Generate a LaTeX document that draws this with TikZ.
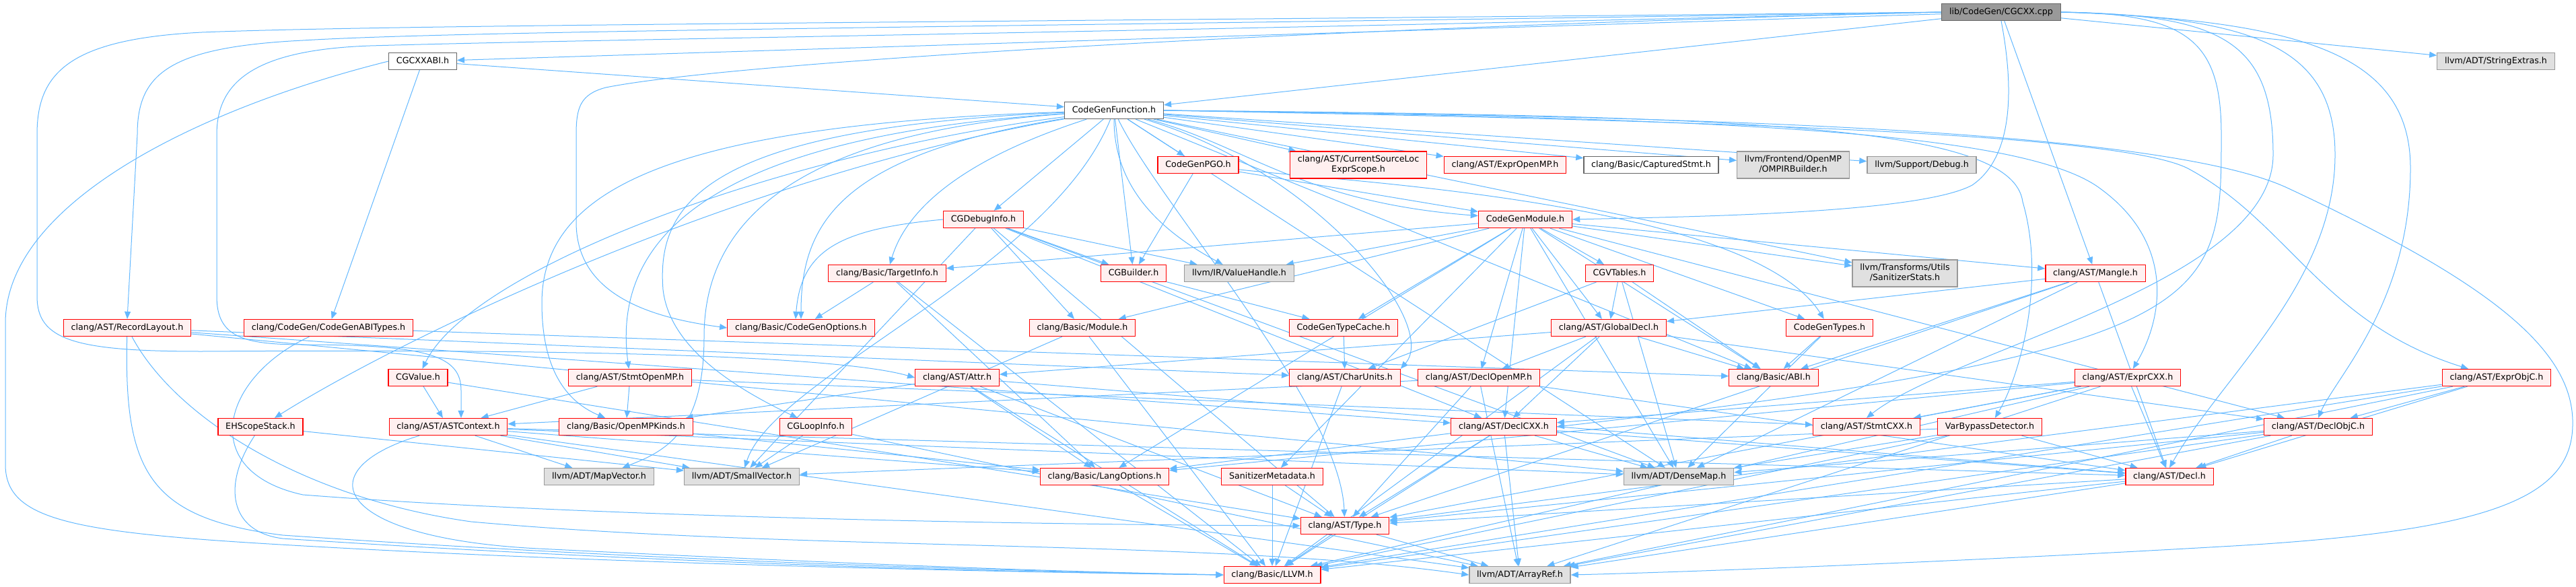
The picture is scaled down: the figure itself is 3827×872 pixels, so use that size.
\documentclass[tikz,border=0pt]{standalone}
\usepackage{fontspec}
\setmainfont{DejaVu Sans}
\usetikzlibrary{arrows.meta,backgrounds}
\definecolor{edgeblue}{HTML}{63B8FF}
\definecolor{redfill}{HTML}{FFF0F0}
\definecolor{grayfill}{HTML}{E0E0E0}
\definecolor{grayline}{HTML}{999999}
\definecolor{darkline}{HTML}{666666}
\begin{document}
\begin{tikzpicture}[x=1pt,y=1pt,font=\fontsize{12.7}{15}\selectfont]
			\tikzstyle{every node}+=[inner xsep=11.3pt,inner ysep=0pt,minimum height=25pt,line width=1.3pt,text height=9.5pt,text depth=2.7pt]
			\tikzstyle{rootbox}=[draw=darkline,fill=grayline]
			\tikzstyle{plainbox}=[draw=darkline,fill=white]
			\tikzstyle{redbox}=[draw=red,fill=redfill]
			\tikzstyle{extbox}=[draw=grayline,fill=grayfill]
			\tikzstyle{twoline}=[align=center,minimum height=40pt,text height=24.5pt,text depth=2.7pt]
			\tikzstyle{dep}=[draw=edgeblue,line width=1pt,-{Triangle[length=11pt,width=9pt]}]
			\useasboundingbox (0,0) rectangle (3827,-872);
			\node [rootbox] (cgcxx) at (2973,-18) {lib/CodeGen/CGCXX.cpp};
			\node [plainbox] (cxxabi) at (628,-91) {CGCXXABI.h};
			\node [extbox] (strext) at (3708,-91) {llvm/ADT/StringExtras.h};
			\node [plainbox] (cgfunc) at (1655,-164) {CodeGenFunction.h};
			\node [redbox] (cgpgo) at (1780,-245) {CodeGenPGO.h};
			\node [redbox,twoline] (srcloc) at (2018,-245) {clang/AST/CurrentSourceLoc\\ExprScope.h};
			\node [redbox] (expromp) at (2236,-245) {clang/AST/ExprOpenMP.h};
			\node [plainbox] (captured) at (2453,-245) {clang/Basic/CapturedStmt.h};
			\node [extbox,twoline] (ompirb) at (2664,-245) {llvm/Frontend/OpenMP\\/OMPIRBuilder.h};
			\node [extbox] (debug) at (2855,-245) {llvm/Support/Debug.h};
			\node [redbox] (cgdbg) at (1461,-326) {CGDebugInfo.h};
			\node [redbox] (cgmod) at (2266,-326) {CodeGenModule.h};
			\node [redbox] (tinfo) at (1318,-406) {clang/Basic/TargetInfo.h};
			\node [redbox] (cgbld) at (1684,-406) {CGBuilder.h};
			\node [extbox] (vhandle) at (1841,-406) {llvm/IR/ValueHandle.h};
			\node [redbox] (vtables) at (2406,-406) {CGVTables.h};
			\node [extbox,twoline] (sanstats) at (2830,-406) {llvm/Transforms/Utils\\/SanitizerStats.h};
			\node [redbox] (mangle) at (3113,-406) {clang/AST/Mangle.h};
			\node [redbox] (reclay) at (189,-487) {clang/AST/RecordLayout.h};
			\node [redbox] (abitypes) at (488,-487) {clang/CodeGen/CodeGenABITypes.h};
			\node [redbox] (cgopts) at (1190,-487) {clang/Basic/CodeGenOptions.h};
			\node [redbox] (bmodule) at (1608,-487) {clang/Basic/Module.h};
			\node [redbox] (tcache) at (1996,-487) {CodeGenTypeCache.h};
			\node [redbox] (gdecl) at (2390,-487) {clang/AST/GlobalDecl.h};
			\node [redbox] (cgtypes) at (2718,-487) {CodeGenTypes.h};
			\node [redbox] (cgvalue) at (621,-561) {CGValue.h};
			\node [redbox] (stmtomp) at (936,-561) {clang/AST/StmtOpenMP.h};
			\node [redbox] (attr) at (1422,-561) {clang/AST/Attr.h};
			\node [redbox] (charunits) at (1998,-561) {clang/AST/CharUnits.h};
			\node [redbox] (declomp) at (2197,-561) {clang/AST/DeclOpenMP.h};
			\node [redbox] (abi) at (2635,-561) {clang/Basic/ABI.h};
			\node [redbox] (exprcxx) at (3161,-561) {clang/AST/ExprCXX.h};
			\node [redbox] (exprobjc) at (3709,-561) {clang/AST/ExprObjC.h};
			\node [redbox] (ehscope) at (387,-634) {EHScopeStack.h};
			\node [redbox] (astctx) at (666,-634) {clang/AST/ASTContext.h};
			\node [redbox] (ompkinds) at (930,-634) {clang/Basic/OpenMPKinds.h};
			\node [redbox] (loopinfo) at (1212,-634) {CGLoopInfo.h};
			\node [redbox] (declcxx) at (2234,-634) {clang/AST/DeclCXX.h};
			\node [redbox] (stmtcxx) at (2773,-634) {clang/AST/StmtCXX.h};
			\node [redbox] (varbypass) at (2956,-634) {VarBypassDetector.h};
			\node [redbox] (declobjc) at (3444,-634) {clang/AST/DeclObjC.h};
			\node [extbox] (mapvec) at (890,-708) {llvm/ADT/MapVector.h};
			\node [extbox] (smallvec) at (1102,-708) {llvm/ADT/SmallVector.h};
			\node [redbox] (langopts) at (1641,-708) {clang/Basic/LangOptions.h};
			\node [redbox] (sanmeta) at (1890,-708) {SanitizerMetadata.h};
			\node [extbox] (densemap) at (2494,-708) {llvm/ADT/DenseMap.h};
			\node [redbox] (decl) at (3223,-708) {clang/AST/Decl.h};
			\node [redbox] (asttype) at (1998,-781) {clang/AST/Type.h};
			\node [redbox] (llvmh) at (1890,-854) {clang/Basic/LLVM.h};
			\node [extbox] (arrayref) at (2258,-854) {llvm/ADT/ArrayRef.h};
			\begin{scope}[on background layer]
			\draw [dep] (cgcxx) -- (cxxabi);
			\draw [dep] (cgcxx) -- (strext);
			\draw [dep] (cgcxx) -- (cgfunc);
			\draw [dep] (cgcxx) -- (mangle);
			\draw [dep] (cgcxx.south) .. controls (2990,-120) and (2995,-230) .. (2930,-275) .. controls (2850,-318) and (2500,-322) .. (cgmod.east);
			\draw [dep] (cgcxx.west) .. controls (1500,-33) and (600,-36) .. (300,-48) .. controls (100,-58) and (55,-110) .. (55,-200) -- (55,-440) .. controls (55,-505) and (110,-522) .. (300,-522) .. controls (900,-518) and (1250,-530) .. (attr.west);
			\draw [dep] (cgcxx.west) .. controls (1500,-40) and (700,-45) .. (450,-60) .. controls (250,-70) and (204,-110) .. (204,-200) -- (reclay.north);
			\draw [dep] (cgcxx.west) .. controls (1600,-50) and (900,-58) .. (550,-68) .. controls (380,-74) and (322,-120) .. (322,-200) -- (322,-440) .. controls (322,-500) and (360,-512) .. (450,-512) .. controls (640,-512) and (685,-530) .. (685,-580) -- ([xshift=19pt]astctx.north);
			\draw [dep] (cgcxx.west) .. controls (2000,-40) and (1100,-90) .. (900,-130) .. controls (862,-140) and (856,-160) .. (856,-200) -- (856,-330) .. controls (856,-430) and (950,-470) .. (cgopts.west);
			\draw [dep] (cgcxx.east) .. controls (3350,-25) and (3469,-70) .. (3469,-230) .. controls (3469,-420) and (3300,-560) .. (decl.north);
			\draw [dep] (cgcxx.east) .. controls (3420,-30) and (3581,-80) .. (3581,-250) .. controls (3581,-450) and (3470,-560) .. (declobjc.north);
			\draw [dep] (cgcxx.east) .. controls (3300,-22) and (3377,-60) .. (3377,-230) .. controls (3377,-420) and (2900,-520) .. (stmtcxx.north);
			\draw [dep] (cgcxx.east) .. controls (3250,-20) and (3300,-60) .. (3300,-200) .. controls (3300,-450) and (3300,-520) .. (declcxx.east);
			\draw [dep] (cxxabi) -- (cgfunc);
			\draw [dep] (cxxabi) -- (abitypes);
			\draw [dep] (cxxabi.west) .. controls (300,-160) and (8,-300) .. (8,-480) -- (8,-690) .. controls (8,-770) and (100,-790) .. (400,-808) .. controls (900,-838) and (1500,-850) .. (llvmh.west);
			\draw [dep] (cgfunc) -- (cgpgo);
			\draw [dep] (cgfunc) -- (srcloc);
			\draw [dep] (cgfunc) -- (expromp);
			\draw [dep] (cgfunc) -- (captured);
			\draw [dep] (cgfunc) -- (ompirb);
			\draw [dep] (cgfunc) -- (debug);
			\draw [dep] (cgfunc) -- (cgdbg);
			\draw [dep] (cgfunc) -- (cgbld);
			\draw [dep] (cgfunc) -- (sanstats);
			\draw [dep] (cgfunc) -- (abi);
			\draw [dep] (cgfunc) -- (densemap);
			\draw [dep] (cgfunc.east) .. controls (2500,-175) and (3000,-190) .. (3120,-280) .. controls (3230,-360) and (3215,-470) .. (exprcxx);
			\draw [dep] (cgfunc.east) .. controls (2600,-180) and (3150,-200) .. (3250,-250) .. controls (3400,-330) and (3450,-480) .. (exprobjc);
			\draw [dep] (cgfunc.east) .. controls (2600,-172) and (2990,-185) .. (3005,-300) .. controls (3040,-420) and (3000,-560) .. (varbypass);
			\draw [dep] (cgfunc) .. controls (1850,-215) and (1930,-300) .. (cgmod);
			\draw [dep] (cgfunc) .. controls (1450,-230) and (1350,-300) .. (tinfo);
			\draw [dep] (cgfunc) .. controls (1655,-260) and (1700,-330) .. (vhandle);
			\draw [dep] (cgfunc) .. controls (1950,-250) and (2140,-480) .. (charunits.north east);
			\draw [dep] (cgfunc) .. controls (1720,-300) and (1990,-600) .. (asttype);
			\draw [dep] (cgfunc) .. controls (1150,-230) and (700,-400) .. (cgvalue);
			\draw [dep] (cgfunc) .. controls (1100,-260) and (600,-500) .. (ehscope);
			\draw [dep] (cgfunc) .. controls (1100,-200) and (905,-330) .. (stmtomp);
			\draw [dep] (cgfunc) .. controls (1000,-185) and (805,-280) .. (805,-450) .. controls (805,-560) and (850,-600) .. (ompkinds);
			\draw [dep] (cgfunc) .. controls (1150,-200) and (1046,-350) .. (1046,-500) .. controls (1046,-640) and (990,-670) .. (mapvec);
			\draw [dep] (cgfunc) .. controls (1050,-190) and (975,-300) .. (985,-430) .. controls (995,-520) and (1100,-580) .. (loopinfo);
			\draw [dep] (cgfunc) .. controls (1560,-400) and (1150,-560) .. (smallvec);
			\draw [dep] (cgfunc) .. controls (1250,-230) and (1190,-330) .. (cgopts);
			\draw [dep] (cgfunc.east) .. controls (2400,-172) and (3200,-185) .. (3400,-280) .. controls (3700,-420) and (3825,-520) .. (3822,-632) .. controls (3820,-740) and (3700,-790) .. (3300,-812) .. controls (2900,-835) and (2500,-850) .. (arrayref.east);
			\draw [dep] (cgpgo) -- (cgbld);
			\draw [dep] (cgpgo) -- (cgmod);
			\draw [dep] (cgpgo) .. controls (2000,-270) and (2600,-300) .. (cgtypes);
			\draw [dep] (cgdbg) -- (cgbld);
			\draw [dep] (cgdbg) -- (vhandle);
			\draw [dep] (cgdbg) -- (bmodule);
			\draw [dep] (cgdbg) -- (declcxx);
			\draw [dep] (cgdbg) -- (asttype);
			\draw [dep] (cgdbg) -- (densemap);
			\draw [dep] (cgdbg) -- (smallvec);
			\draw [dep] (cgdbg.west) .. controls (1250,-340) and (1190,-370) .. ([xshift=-8pt]cgopts.north);
			\draw [dep] (cgmod) -- (tinfo);
			\draw [dep] (cgmod) -- (vhandle);
			\draw [dep] (cgmod) -- (vtables);
			\draw [dep] (cgmod) -- (sanstats);
			\draw [dep] (cgmod) -- (mangle);
			\draw [dep] (cgmod) -- (bmodule);
			\draw [dep] (cgmod) -- (tcache);
			\draw [dep] (cgmod) -- (gdecl);
			\draw [dep] (cgmod) -- (cgtypes);
			\draw [dep] (cgmod) -- (declomp);
			\draw [dep] (cgmod) -- (abi);
			\draw [dep] (cgmod) -- (declcxx);
			\draw [dep] (cgmod) -- (declobjc);
			\draw [dep] (cgmod) -- (langopts);
			\draw [dep] (cgmod) -- (sanmeta);
			\draw [dep] (cgmod) -- (densemap);
			\draw [dep] (tinfo) -- (cgopts);
			\draw [dep] (tinfo) -- (langopts);
			\draw [dep] (tinfo) -- (llvmh);
			\draw [dep] (cgbld) -- (tcache);
			\draw [dep] (vtables) -- (charunits);
			\draw [dep] (vtables) -- (gdecl);
			\draw [dep] (vtables) -- (abi);
			\draw [dep] (vtables) -- (densemap);
			\draw [dep] (mangle) -- (gdecl);
			\draw [dep] (mangle) -- (abi);
			\draw [dep] (mangle) -- (asttype);
			\draw [dep] (mangle) -- (densemap);
			\draw [dep] (mangle) -- (decl);
			\draw [dep] (reclay) -- (charunits);
			\draw [dep] (reclay) -- (declcxx);
			\draw [dep] (reclay) -- (densemap);
			\draw [dep] (reclay) .. controls (184,-700) and (220,-770) .. (420,-795) .. controls (1000,-835) and (1500,-848) .. (llvmh.west);
			\draw [dep] (reclay) .. controls (260,-620) and (450,-740) .. (700,-775) .. controls (1200,-820) and (1800,-800) .. (arrayref.west);
			\draw [dep] (abitypes) -- (abi);
			\draw [dep] (abitypes) .. controls (330,-560) and (290,-700) .. (450,-735) .. controls (900,-770) and (1600,-780) .. (asttype.west);
			\draw [dep] (bmodule) -- (llvmh);
			\draw [dep] (bmodule) -- (smallvec);
			\draw [dep] (tcache) -- (charunits);
			\draw [dep] (gdecl) -- (attr);
			\draw [dep] (gdecl) -- (declomp);
			\draw [dep] (gdecl) -- (declcxx);
			\draw [dep] (gdecl) -- (declobjc);
			\draw [dep] (gdecl) -- (abi);
			\draw [dep] (gdecl) -- (llvmh);
			\draw [dep] (cgtypes) -- (abi);
			\draw [dep] (cgtypes) -- (densemap);
			\draw [dep] (cgvalue) -- (astctx);
			\draw [dep] (cgvalue) -- (asttype);
			\draw [dep] (stmtomp) -- (astctx);
			\draw [dep] (stmtomp) -- (ompkinds);
			\draw [dep] (stmtomp) -- (stmtcxx);
			\draw [dep] (attr) -- (ompkinds);
			\draw [dep] (attr) -- (langopts);
			\draw [dep] (attr) -- (asttype);
			\draw [dep] (attr) -- (llvmh);
			\draw [dep] (attr) -- (decl);
			\draw [dep] (charunits) -- (llvmh);
			\draw [dep] (declomp) -- (astctx);
			\draw [dep] (declomp) -- (asttype);
			\draw [dep] (declomp) -- (arrayref);
			\draw [dep] (declomp) -- (decl);
			\draw [dep] (exprcxx) -- (declcxx);
			\draw [dep] (exprcxx) -- (stmtcxx);
			\draw [dep] (exprcxx) -- (decl);
			\draw [dep] (exprcxx) -- (langopts);
			\draw [dep] (exprcxx) -- (asttype);
			\draw [dep] (exprcxx) -- (llvmh);
			\draw [dep] (exprcxx) -- (arrayref);
			\draw [dep] (exprobjc) -- (declobjc);
			\draw [dep] (exprobjc) -- (decl);
			\draw [dep] (exprobjc) -- (asttype);
			\draw [dep] (exprobjc) -- (llvmh);
			\draw [dep] (exprobjc) -- (arrayref);
			\draw [dep] (ehscope) -- (smallvec);
			\draw [dep] (ehscope) .. controls (330,-720) and (340,-790) .. (420,-800) .. controls (1000,-838) and (1500,-850) .. (llvmh.west);
			\draw [dep] (astctx) -- (mapvec);
			\draw [dep] (astctx) -- (smallvec);
			\draw [dep] (astctx) -- (langopts);
			\draw [dep] (astctx) -- (densemap);
			\draw [dep] (astctx) -- (decl);
			\draw [dep] (astctx) -- (arrayref);
			\draw [dep] (astctx) .. controls (450,-700) and (500,-800) .. (800,-815) .. controls (1300,-840) and (1600,-850) .. (llvmh.west);
			\draw [dep] (ompkinds) -- (langopts);
			\draw [dep] (loopinfo) -- (smallvec);
			\draw [dep] (loopinfo) -- (arrayref);
			\draw [dep] (declcxx) -- (langopts);
			\draw [dep] (declcxx) -- (asttype);
			\draw [dep] (declcxx) -- (llvmh);
			\draw [dep] (declcxx) -- (arrayref);
			\draw [dep] (declcxx) -- (densemap);
			\draw [dep] (declcxx) -- (decl);
			\draw [dep] (varbypass) -- (densemap);
			\draw [dep] (varbypass) -- (decl);
			\draw [dep] (varbypass) -- (smallvec);
			\draw [dep] (varbypass) -- (llvmh);
			\draw [dep] (declobjc) -- (decl);
			\draw [dep] (declobjc) -- (densemap);
			\draw [dep] (declobjc) -- (asttype);
			\draw [dep] (declobjc) -- (llvmh);
			\draw [dep] (declobjc) -- (arrayref);
			\draw [dep] (langopts) -- (llvmh);
			\draw [dep] (sanmeta) -- (asttype);
			\draw [dep] (sanmeta) -- (llvmh);
			\draw [dep] (decl) -- (asttype);
			\draw [dep] (decl) -- (llvmh);
			\draw [dep] (decl) -- (arrayref);
			\draw [dep] (asttype) -- (llvmh);
			\draw [dep] (asttype) -- (arrayref);
			\end{scope}
		\end{tikzpicture}
\end{document}
